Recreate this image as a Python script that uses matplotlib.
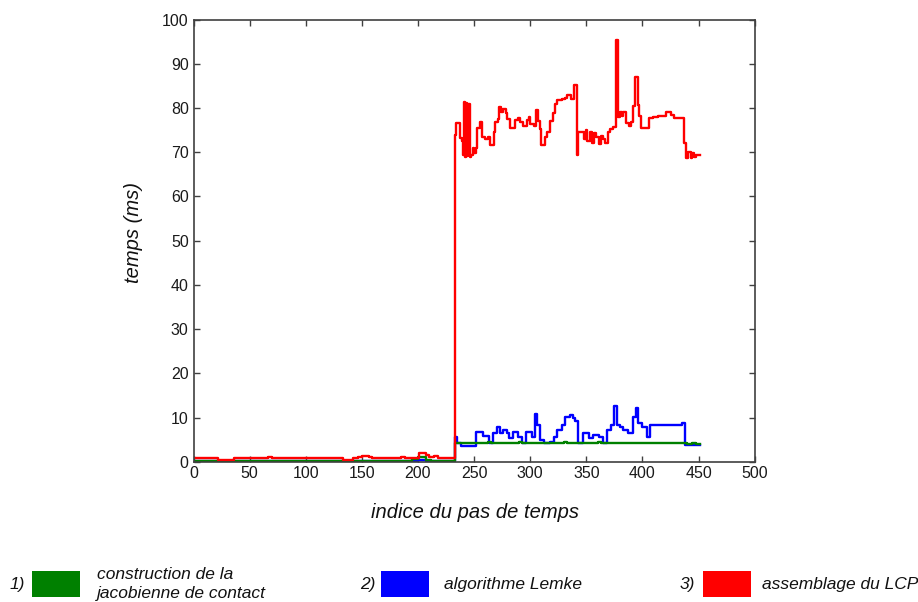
import matplotlib
matplotlib.use("Agg")
import matplotlib.pyplot as plt
from matplotlib.patches import Rectangle

plt.rcParams['font.family'] = ['Liberation Sans', 'DejaVu Sans']

# Step series: each value holds from its start index until the next one.
green_idx = [0, 195, 200, 207, 212, 233, 262, 265, 290, 293, 330, 333, 360, 363, 440, 444, 448, 451]
green_val = [0.2, 0.5, 1.0, 0.4, 0.2, 4.2, 4.5, 4.2, 4.4, 4.2, 4.5, 4.2, 4.4, 4.2, 4.0, 4.3, 4.1, 4.1]

blue_idx = [0, 200, 207, 233, 235, 238, 252, 258, 263, 267, 270, 273, 276, 279, 281, 285, 289, 293,
            296, 302, 304, 306, 309, 312, 318, 321, 324, 328, 331, 335, 338, 340, 343, 347, 352, 356,
            361, 365, 368, 372, 375, 377, 380, 383, 387, 392, 394, 396, 400, 404, 407, 435, 438, 451]
blue_val = [0.1, 0.3, 0.1, 5.7, 4.2, 3.55, 6.8, 5.8, 4.15, 6.4, 7.9, 6.4, 7.2, 6.4, 5.3, 6.8, 5.7, 4.15,
            6.8, 5.7, 10.9, 8.3, 4.9, 4.15, 4.5, 5.7, 7.2, 8.3, 10.2, 10.6, 9.8, 9.1, 4.15, 6.4, 5.3, 6.0,
            5.7, 4.15, 7.2, 8.3, 12.6, 8.3, 7.9, 7.2, 6.4, 10.2, 12.1, 8.7, 7.9, 5.7, 8.3, 8.8, 3.75, 3.75]

red_idx = [0, 22, 36, 66, 70, 133, 142, 147, 150, 156, 159, 185, 188, 201, 207, 210, 214, 218, 233,
           234, 237, 239, 240, 241, 242, 243, 244, 245, 246, 247, 249, 250, 252, 253, 255, 257, 260,
           262, 264, 268, 269, 271, 272, 274, 276, 278, 279, 282, 286, 289, 291, 294, 297, 299, 300,
           303, 305, 307, 309, 310, 313, 315, 318, 320, 322, 324, 328, 331, 333, 336, 339, 342, 343,
           348, 350, 351, 353, 355, 357, 359, 361, 363, 365, 367, 369, 371, 374, 376, 378, 380, 382,
           383, 385, 388, 390, 392, 393, 396, 397, 399, 406, 409, 414, 418, 421, 425, 428, 437, 439,
           441, 443, 444, 446, 448, 451]
red_val = [0.77, 0.38, 0.77, 1.1, 0.77, 0.38, 0.77, 1.1, 1.3, 1.1, 0.77, 1.1, 0.77, 1.9, 1.5, 1.0, 1.2, 0.77, 73.9,
           76.6, 73.2, 72.5, 69.5, 81.4, 69.0, 81.2, 69.2, 81.0, 69.0, 69.5, 71.0, 69.8, 71.0, 75.4, 76.9, 73.5, 73.0,
           73.5, 71.7, 74.5, 76.9, 77.6, 80.3, 79.2, 79.8, 78.9, 77.6, 75.4, 77.3, 77.8, 76.9, 76.0, 77.2, 78.0, 76.5,
           76.0, 79.6, 77.0, 75.2, 71.7, 73.5, 74.5, 77.0, 79.0, 81.0, 81.8, 82.0, 82.2, 83.0, 82.0, 85.2, 69.4, 74.7,
           73.0, 75.0, 72.5, 74.5, 72.0, 74.3, 73.5, 71.9, 73.8, 73.0, 72.2, 74.5, 75.2, 75.8, 95.4, 78.0, 79.2, 78.3,
           79.2, 76.6, 76.0, 76.8, 80.5, 87.1, 80.8, 78.2, 75.4, 77.7, 78.0, 78.3, 78.1, 79.2, 78.5, 77.7, 72.0, 68.6,
           70.0, 68.8, 69.8, 69.0, 69.5, 69.5]

x_ticks = [0, 50, 100, 150, 200, 250, 300, 350, 400, 450, 500]
y_ticks = [0, 10, 20, 30, 40, 50, 60, 70, 80, 90, 100]

legend_nums = ["1)", "2)", "3)"]
legend_labels = ["construction de la\njacobienne de contact", "algorithme Lemke", "assemblage du LCP"]
series_colors = ["#008000", "#0000ff", "#ff0000"]

W, H = 918, 602
fig = plt.figure(figsize=(W / 100, H / 100), dpi=100)
ax = fig.add_axes([193.5 / W, 1 - 461.7 / H, (754.7 - 193.5) / W, (461.7 - 19.7) / H])

lw = 1.7
ax.plot(blue_idx, blue_val, drawstyle='steps-post', color=series_colors[1], lw=lw)
ax.plot(green_idx, green_val, drawstyle='steps-post', color=series_colors[0], lw=lw)
ax.plot(red_idx, red_val, drawstyle='steps-post', color=series_colors[2], lw=lw)

ax.set_xlim(0, 500)
ax.set_ylim(0, 100)
ax.set_xticks(x_ticks)
ax.set_yticks(y_ticks)
ax.tick_params(direction='in', top=True, right=True, length=4.5, width=1.0,
               color='#404040', labelsize=11.5, labelcolor='#1a1a1a')
ax.tick_params(axis='x', pad=3)
ax.tick_params(axis='y', pad=3.5)
for sp in ax.spines.values():
    sp.set_color('#404040')
    sp.set_linewidth(1.2)

# axis titles
fig.text(475 / W, 1 - 513 / H, "indice du pas de temps", fontsize=14.5, style='italic',
         ha='center', va='center', color='#111111')
fig.text(133.5 / W, 1 - 232 / H, "temps (ms)", fontsize=14.5, style='italic', rotation=90,
         ha='center', va='center', color='#111111')

# numbered colour key under the chart
num_x = [10, 360, 680]
rect_x = [32, 381, 703]
text_x = [97, 444, 762]
rect_w, rect_top, rect_bot = 48, 571, 597
for nx, rx, tx, num, lab, col in zip(num_x, rect_x, text_x, legend_nums, legend_labels, series_colors):
    fig.text(nx / W, 1 - 584 / H, num, fontsize=12.5, style='italic', ha='left', va='center',
             color='#111111')
    fig.patches.append(Rectangle((rx / W, 1 - rect_bot / H), rect_w / W, (rect_bot - rect_top) / H,
                                 transform=fig.transFigure, facecolor=col, edgecolor='none'))
    fig.text(tx / W, 1 - 584 / H, lab, fontsize=12.5, style='italic', ha='left', va='center',
             color='#111111', linespacing=1.35)

fig.savefig("out.png", dpi=100)
